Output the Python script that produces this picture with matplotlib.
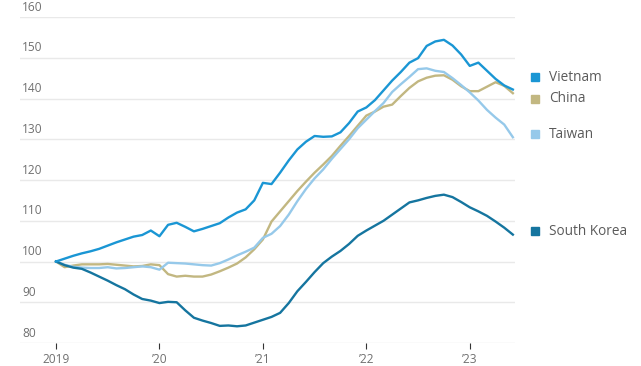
import numpy as np
import pandas as pd
import matplotlib
matplotlib.use("Agg")
import matplotlib.pyplot as plt

plt.rcParams['font.family'] = ['Open Sans', 'DejaVu Sans']

# monthly index, Jan 2019 = 100
months = pd.date_range("2019-01-01", "2023-06-01", freq="MS")

vietnam = [100.0, 100.7, 101.4, 102.0, 102.5, 103.1, 103.9, 104.7, 105.4, 106.1,
           106.5, 107.6, 106.2, 109.0, 109.5, 108.5, 107.4, 108.0, 108.7, 109.4,
           110.8, 112.0, 112.8, 115.0, 119.3, 119.0, 121.8, 124.8, 127.5, 129.4,
           130.8, 130.6, 130.7, 131.7, 134.0, 136.8, 137.8, 139.6, 142.0, 144.4,
           146.5, 148.8, 149.9, 152.9, 154.0, 154.4, 153.0, 150.8, 148.0, 148.8,
           146.8, 144.8, 143.2, 142.2]
china = [100.0, 98.6, 99.0, 99.3, 99.3, 99.3, 99.4, 99.2, 99.0, 98.8,
         98.9, 99.3, 99.1, 96.9, 96.3, 96.5, 96.3, 96.3, 96.8, 97.6,
         98.5, 99.5, 101.0, 103.0, 105.4, 109.8, 112.3, 114.8, 117.3, 119.6,
         121.8, 123.8, 125.9, 128.4, 130.8, 133.3, 135.8, 136.8, 138.0, 138.5,
         140.6, 142.6, 144.2, 145.1, 145.6, 145.7, 144.6, 143.0, 141.8, 141.8,
         142.9, 144.0, 143.1, 141.3]
taiwan = [100.0, 99.2, 98.7, 98.5, 98.4, 98.4, 98.6, 98.3, 98.4, 98.6,
          98.8, 98.6, 98.0, 99.7, 99.6, 99.5, 99.3, 99.1, 99.0, 99.6,
          100.5, 101.5, 102.4, 103.4, 105.8, 106.8, 108.7, 111.5, 114.8, 117.8,
          120.4, 122.6, 125.2, 127.6, 130.0, 132.7, 134.8, 136.9, 138.9, 141.6,
          143.5, 145.3, 147.2, 147.4, 146.8, 146.5, 145.0, 143.3, 141.5, 139.5,
          137.2, 135.3, 133.6, 130.5]
south_korea = [100.0, 99.1, 98.5, 98.2, 97.3, 96.3, 95.3, 94.2, 93.2, 91.9,
               90.8, 90.4, 89.8, 90.1, 90.0, 88.0, 86.2, 85.5, 84.9, 84.2,
               84.3, 84.1, 84.3, 85.0, 85.7, 86.4, 87.4, 89.8, 92.7, 95.0,
               97.4, 99.6, 101.2, 102.6, 104.3, 106.3, 107.6, 108.8, 110.0, 111.5,
               113.0, 114.5, 115.0, 115.6, 116.1, 116.4, 115.8, 114.6, 113.3, 112.3,
               111.2, 109.8, 108.3, 106.6]

series = ["Vietnam", "China", "Taiwan", "South Korea"]
colors = {"Vietnam": "#1a96d4", "China": "#c2b781",
          "Taiwan": "#96c9ea", "South Korea": "#15759f"}
# where each end label sits on the value scale
label_y = {"Vietnam": 145.2, "China": 140.0, "Taiwan": 131.2, "South Korea": 107.4}

yticks = [80, 90, 100, 110, 120, 130, 140, 150, 160]
xtick_labels = ["2019", "\u201920", "\u201921", "\u201922", "\u201923"]

df = pd.DataFrame({"Vietnam": vietnam, "China": china,
                   "Taiwan": taiwan, "South Korea": south_korea}, index=months)
x = np.arange(len(df))

fig = plt.figure(figsize=(6.41, 3.66), dpi=100)
ax = fig.add_axes([20 / 641, 23 / 366, 495 / 641, 326 / 366])

for name in ["China", "Taiwan", "South Korea", "Vietnam"]:
    ax.plot(x, df[name], color=colors[name], lw=1.7, solid_joinstyle="round",
            zorder=3)

ax.set_xlim(-36 / 8.62, 459 / 8.62)
ax.set_ylim(80, 160)

for v in yticks:
    ax.axhline(v, color="#e9e9e9", lw=1.0, zorder=1)
    ax.text(0.004, v + 0.8, str(v), transform=ax.get_yaxis_transform(),
            ha="left", va="bottom", fontsize=8.6, color="#707070")

ax.set_yticks([])
ax.set_xticks([0, 12, 24, 36, 48])
ax.set_xticklabels(xtick_labels)
ax.tick_params(axis="x", length=4, width=0.8, color="#333333", pad=3,
               labelsize=8.6, labelcolor="#707070")
for s in ax.spines.values():
    s.set_visible(False)

# end-of-line labels with coloured squares
for name in series:
    ax.plot([55.6], [label_y[name]], marker="s", ms=6.3, color=colors[name],
            clip_on=False, lw=0)
    ax.text(57.2, label_y[name], name, ha="left", va="center",
            fontsize=9.8, color="#5a5a5a", clip_on=False)

fig.savefig("out.png", dpi=100)
